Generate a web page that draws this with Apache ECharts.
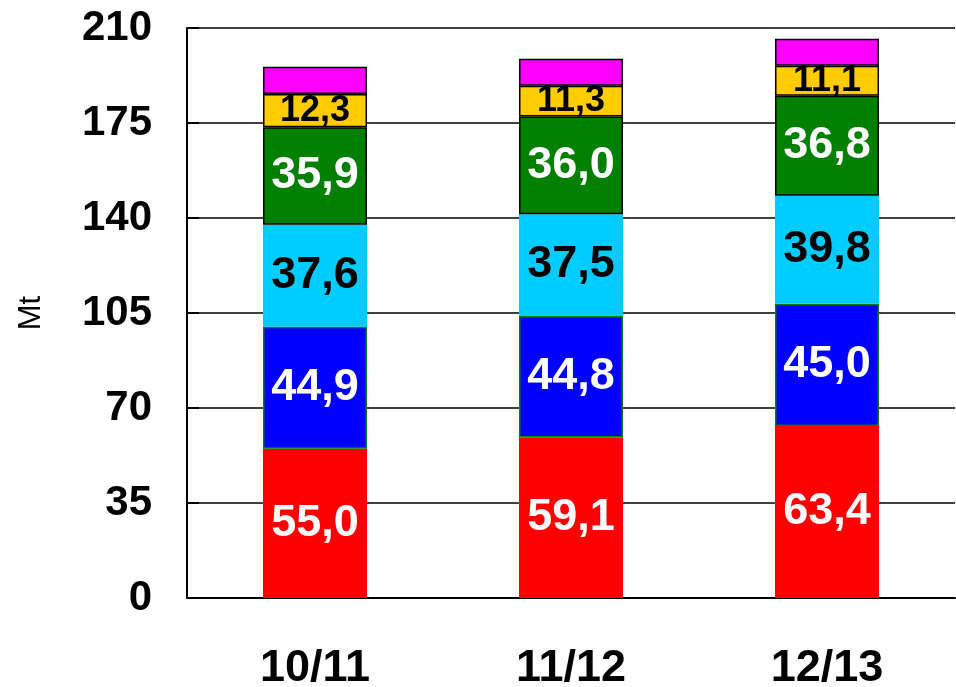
<!DOCTYPE html>
<html>
<head>
<meta charset="utf-8">
<script src="https://cdn.jsdelivr.net/npm/echarts@6/dist/echarts.min.js"></script>
<style>
  html, body { margin: 0; padding: 0; background: #fff; }
  #chart { width: 956px; height: 687px; }
</style>
</head>
<body>
<div id="chart"></div>
<script>
// data
var categories = ["10/11", "11/12", "12/13"];
var redVals = [55.0, 59.1, 63.4];
var blueVals = [44.9, 44.8, 45.0];
var cyanVals = [37.6, 37.5, 39.8];
var greenVals = [35.9, 36.0, 36.8];
var yellowVals = [12.3, 11.3, 11.1];
var magentaVals = [10.0, 10.0, 9.9];
var yTicks = [0, 35, 70, 105, 140, 175, 210];

var FONT = "'Liberation Sans', Arial, sans-serif";

function fmt(p) {
  return p.value.toFixed(1).replace(".", ",");
}

function seg(name, data, color, border, labelColor, labelSize) {
  return {
    name: name,
    type: "bar",
    stack: "total",
    barWidth: 104,
    data: data,
    itemStyle: {
      color: color,
      borderColor: border ? border.color : color,
      borderWidth: border ? border.width : 0
    },
    label: {
      show: !!labelColor,
      position: "inside",
      formatter: fmt,
      color: labelColor,
      fontFamily: FONT,
      fontWeight: "bold",
      fontSize: labelSize || 45
    },
    emphasis: { disabled: true }
  };
}

var chart = echarts.init(document.getElementById("chart"));
chart.setOption({
  animation: false,
  grid: { left: 187, right: 1, top: 28, bottom: 89, containLabel: false, outerBoundsMode: "none" },
  xAxis: {
    type: "category",
    data: categories,
    axisLine: { lineStyle: { color: "#000", width: 2 } },
    axisTick: { show: false },
    axisLabel: {
      color: "#000",
      fontFamily: FONT,
      fontWeight: "bold",
      fontSize: 45,
      margin: 48
    }
  },
  yAxis: {
    type: "value",
    min: yTicks[0],
    max: yTicks[yTicks.length - 1],
    interval: 35,
    name: "Mt",
    nameLocation: "middle",
    nameGap: 140,
    nameRotate: 90,
    nameTextStyle: { color: "#000", fontFamily: FONT, fontSize: 31 },
    axisLine: { show: true, lineStyle: { color: "#000", width: 2 } },
    axisTick: { show: true, inside: true, length: 12, lineStyle: { color: "#000", width: 2 } },
    axisLabel: {
      color: "#000",
      fontFamily: FONT,
      fontWeight: "bold",
      fontSize: 42,
      margin: 35
    },
    splitLine: { show: true, lineStyle: { color: "#000", width: 1.5 } }
  },
  series: [
    seg("red", redVals, "#ff0000", null, "#fff"),
    seg("blue", blueVals, "#0000ff", { color: "#008000", width: 1.5 }, "#fff"),
    seg("cyan", cyanVals, "#00ccff", null, "#000"),
    seg("green", greenVals, "#008000", { color: "#000", width: 1.5 }, "#fff"),
    seg("yellow", yellowVals, "#ffcc00", { color: "#000", width: 1.5 }, "#000", 36),
    seg("magenta", magentaVals, "#ff00ff", { color: "#000", width: 1.5 }, null)
  ]
});
</script>
</body>
</html>
